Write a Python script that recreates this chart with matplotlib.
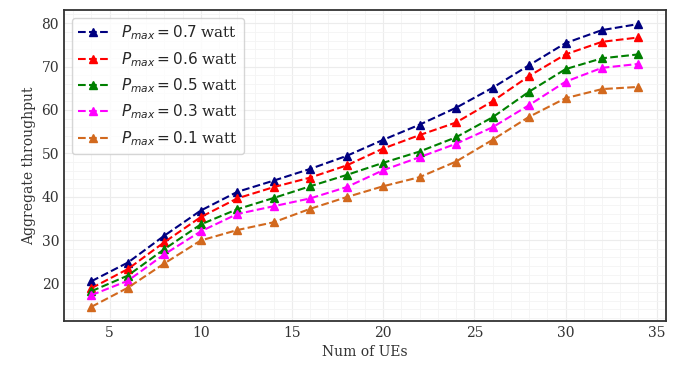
import matplotlib
matplotlib.use("Agg")
import matplotlib.pyplot as plt
from matplotlib.ticker import AutoMinorLocator
import seaborn as sns

sns.set_style("white")
plt.rcParams["font.family"] = ["DejaVu Serif"]

num_ues = [4, 6, 8, 10, 12, 14, 16, 18, 20, 22, 24, 26, 28, 30, 32, 34]

p07 = [20.5, 24.8, 31.0, 36.8, 41.1, 43.7, 46.4, 49.4, 53.1, 56.6, 60.5, 65.1, 70.3, 75.4, 78.4, 79.8]
p06 = [18.9, 23.3, 29.5, 35.3, 39.6, 42.2, 44.4, 47.2, 51.1, 54.2, 57.1, 62.0, 67.8, 72.8, 75.7, 76.7]
p05 = [18.2, 21.8, 27.9, 33.6, 37.1, 39.7, 42.4, 45.0, 47.8, 50.4, 53.7, 58.3, 64.2, 69.4, 71.9, 72.8]
p03 = [17.3, 20.6, 26.7, 32.0, 36.0, 37.8, 39.6, 42.2, 46.1, 49.1, 52.2, 56.0, 61.1, 66.5, 69.7, 70.6]
p01 = [14.6, 19.0, 24.6, 29.9, 32.3, 34.1, 37.2, 39.9, 42.4, 44.5, 48.1, 53.1, 58.4, 62.7, 64.8, 65.3]

series = [p07, p06, p05, p03, p01]
labels = ["0.7", "0.6", "0.5", "0.3", "0.1"]
colors = ["navy", "red", "green", "magenta", "chocolate"]

fig = plt.figure(figsize=(6.77, 3.66), dpi=100)
ax = fig.add_axes([0.0945, 0.123, 0.889, 0.85])

for vals, lab, col in zip(series, labels, colors):
    ax.plot(num_ues, vals, "--", marker="^", color=col, markersize=6,
            linewidth=1.5, label=r"$P_{max} = %s$ watt" % lab)

ax.xaxis.set_minor_locator(AutoMinorLocator(5))
ax.yaxis.set_minor_locator(AutoMinorLocator(5))
ax.grid(which="major", color="#ececec", linewidth=0.8)
ax.grid(which="minor", color="#f4f4f4", linewidth=0.6)
ax.tick_params(which="both", length=0, labelsize=10, colors="#333333")

for s in ax.spines.values():
    s.set_color("#333333")
    s.set_linewidth(1.3)

ax.set_xlabel("Num of UEs", fontsize=10, color="#333333")
ax.set_ylabel("Aggregate throughput", fontsize=10, color="#333333")
ax.legend(loc="upper left", fontsize=11, frameon=True)

fig.savefig("out.png", dpi=100)
